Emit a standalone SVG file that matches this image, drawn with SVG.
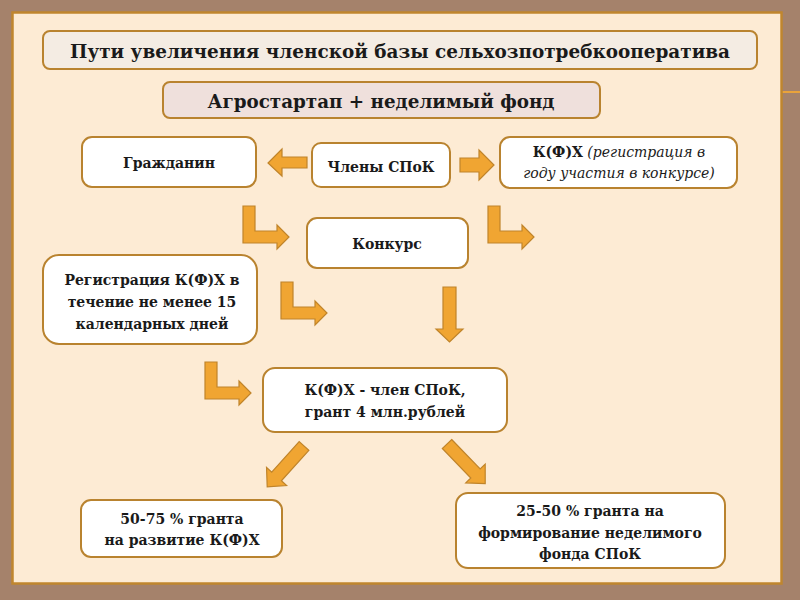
<svg xmlns="http://www.w3.org/2000/svg" width="800" height="600" viewBox="0 0 800 600">
<defs>
<style>
.box{fill:#ffffff;stroke:#b9832f;stroke-width:2}
.hdr{fill:#f4ece3;stroke:#b9832f;stroke-width:2}
.hdr2{fill:#efe0dc;stroke:#b9832f;stroke-width:2}
.arr{fill:#f0a532;stroke:#c0842a;stroke-width:1.2;stroke-linejoin:miter}
text{font-family:"DejaVu Serif","Liberation Serif",serif;fill:#1a1a1a;text-anchor:middle}
.b{font-weight:bold;font-size:14px}
.t{font-weight:bold;font-size:18px}
.i{font-style:italic;font-weight:normal}
</style>
<path id="bent" d="M0,0 h12 v25 h22 v-6 l12,12 l-12,12 v-6 h-34 z"/>
</defs>
<rect x="0" y="0" width="800" height="600" fill="#a5826b"/>
<line x1="781" y1="92" x2="800" y2="92" stroke="#e9a33c" stroke-width="2"/>
<rect x="12.5" y="12.5" width="769" height="571" fill="#fdebd4" stroke="#c0862e" stroke-width="2.5"/>

<g id="title">
<rect class="hdr" x="43" y="31" width="714" height="38" rx="7"/>
<text class="t" x="400" y="58" textLength="660" lengthAdjust="spacingAndGlyphs">Пути увеличения членской базы сельхозпотребкооператива</text>
</g>
<g id="agro">
<rect class="hdr2" x="163" y="82" width="437" height="36" rx="7"/>
<text class="t" x="381" y="108" textLength="347" lengthAdjust="spacingAndGlyphs">Агростартап + неделимый фонд</text>
</g>
<g id="grazhdanin">
<rect class="box" x="82" y="137" width="174" height="50" rx="10"/>
<text class="b" x="169" y="168" font-size="14.5">Гражданин</text>
</g>
<g id="chleny">
<rect class="box" x="312" y="143" width="138" height="44" rx="9"/>
<text class="b" x="381" y="172">Члены СПоК</text>
</g>
<g id="kfh">
<rect class="box" x="500" y="137" width="237" height="51" rx="10"/>
<text x="619" y="157" font-size="14"><tspan font-weight="bold">К(Ф)Х</tspan><tspan class="i" font-size="14"> (регистрация в</tspan></text>
<text class="i" x="619" y="178" font-size="14">году участия в конкурсе)</text>
</g>
<g id="konkurs">
<rect class="box" x="307" y="218" width="161" height="50" rx="10"/>
<text class="b" x="387" y="249">Конкурс</text>
</g>
<g id="registr">
<rect class="box" x="43" y="255" width="214" height="89" rx="16"/>
<text class="b" x="152" y="285">Регистрация К(Ф)Х в</text>
<text class="b" x="152" y="307">течение не менее 15</text>
<text class="b" x="152" y="329">календарных дней</text>
</g>
<g id="chlen">
<rect class="box" x="263" y="368" width="244" height="64" rx="12"/>
<text class="b" x="385" y="395">К(Ф)Х - член СПоК,</text>
<text class="b" x="385" y="417">грант 4 млн.рублей</text>
</g>
<g id="p5075">
<rect class="box" x="81" y="500" width="201" height="57" rx="10"/>
<text class="b" x="182" y="524">50-75 % гранта</text>
<text class="b" x="182" y="545">на развитие К(Ф)Х</text>
</g>
<g id="p2550">
<rect class="box" x="456" y="493" width="269" height="75" rx="12"/>
<text class="b" x="590" y="516">25-50 % гранта на</text>
<text class="b" x="590" y="538">формирование неделимого</text>
<text class="b" x="590" y="559">фонда СПоК</text>
</g>

<g id="connectors">
<path class="arr" d="M307,157 h-25 v-8 l-14,14 l14,13 v-8 h25 z"/>
<path class="arr" d="M460,158 h19 v-8 l15,15 l-15,15 v-8 h-19 z"/>
<use href="#bent" class="arr" transform="translate(243,206)"/>
<use href="#bent" class="arr" transform="translate(488,206)"/>
<use href="#bent" class="arr" transform="translate(281,282)"/>
<use href="#bent" class="arr" transform="translate(205,362)"/>
<path class="arr" d="M443,287 h13 v42 h7 l-13.5,13 l-13.5,-13 h7 z"/>
<path class="arr" transform="translate(304,446) rotate(132)" d="M0,-6.5 h41 v-7 l14,13.5 l-14,13.5 v-7 h-41 z"/>
<path class="arr" transform="translate(447,444) rotate(46)" d="M0,-6.5 h41 v-7 l14,13.5 l-14,13.5 v-7 h-41 z"/>
</g>
</svg>
